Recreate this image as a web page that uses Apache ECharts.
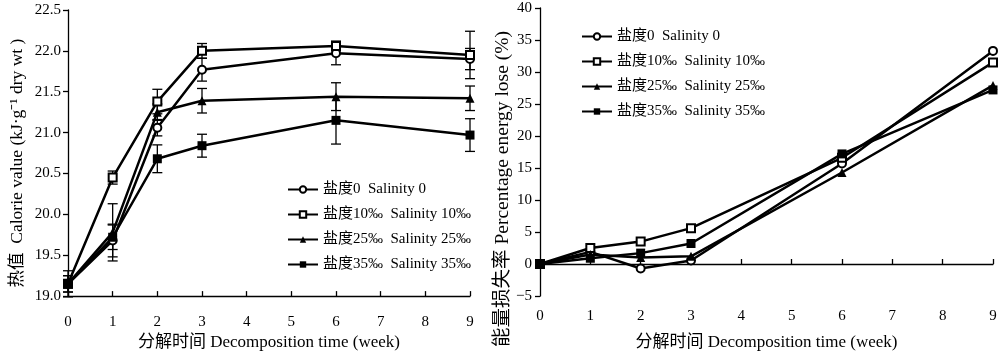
<!DOCTYPE html>
<html>
<head>
<meta charset="utf-8">
<script src="https://cdn.jsdelivr.net/npm/echarts@6/dist/echarts.min.js"></script>
<style>html,body{margin:0;padding:0;background:#fff}#c{width:1000px;height:356px}</style>
</head>
<body>
<div id="c"></div>
<script>
const weeks = [0, 1, 2, 3, 6, 9];
const seriesNames = ['盐度0  Salinity 0', '盐度10‰  Salinity 10‰', '盐度25‰  Salinity 25‰', '盐度35‰  Salinity 35‰'];
const symbols = ['emptyCircle', 'emptyRect', 'triangle', 'rect'];
const symbolSizes = [8, 8, 9, 9];

// Left: caloric value (kJ/g dry wt)
const caloric0 = [19.15, 19.68, 21.06, 21.77, 21.97, 21.90];
const caloric10 = [19.15, 20.45, 21.38, 22.00, 22.06, 21.95];
const caloric25 = [19.15, 19.78, 21.25, 21.39, 21.44, 21.42];
const caloric35 = [19.15, 19.72, 20.68, 20.84, 21.15, 20.97];
const err0 = [0.10, 0.20, 0.10, 0.14, 0.14, 0.13];
const err10 = [0.05, 0.08, 0.15, 0.09, 0.06, 0.29];
const err25 = [0.10, 0.35, 0.10, 0.15, 0.17, 0.15];
const err35 = [0.16, 0.15, 0.17, 0.14, 0.29, 0.20];

// Right: percentage energy lose (%)
const loss0 = [0, 1.9, -0.7, 0.55, 15.7, 33.3];
const loss10 = [0, 2.5, 3.5, 5.6, 16.6, 31.5];
const loss25 = [0, 1.5, 1.0, 1.2, 14.3, 27.9];
const loss35 = [0, 0.9, 1.7, 3.2, 17.2, 27.2];

const leftTicks = [19.0, 19.5, 20.0, 20.5, 21.0, 21.5, 22.0, 22.5];
const rightTicks = [-5, 0, 5, 10, 15, 20, 25, 30, 35, 40];
const xTicks = [0, 1, 2, 3, 4, 5, 6, 7, 8, 9];

const FONT = '"Liberation Serif", "Noto Sans CJK SC", serif';
const caloric = [caloric0, caloric10, caloric25, caloric35];
const errs = [err0, err10, err25, err35];
const losses = [loss0, loss10, loss25, loss35];

function pairs(ys) { return weeks.map((w, i) => [w, ys[i]]); }

const series = [];
caloric.forEach((ys, k) => {
  series.push({
    type: 'custom', xAxisIndex: 0, yAxisIndex: 0, silent: true, z: 1,
    data: weeks.map((w, i) => [w, ys[i] - errs[k][i], ys[i] + errs[k][i]]),
    renderItem: function (params, api) {
      const lo = api.coord([api.value(0), api.value(1)]);
      const hi = api.coord([api.value(0), api.value(2)]);
      const hw = 5;
      const st = { stroke: '#000', lineWidth: 1.3 };
      return { type: 'group', children: [
        { type: 'line', shape: { x1: lo[0], y1: lo[1], x2: hi[0], y2: hi[1] }, style: st },
        { type: 'line', shape: { x1: lo[0] - hw, y1: lo[1], x2: lo[0] + hw, y2: lo[1] }, style: st },
        { type: 'line', shape: { x1: hi[0] - hw, y1: hi[1], x2: hi[0] + hw, y2: hi[1] }, style: st }
      ]};
    }
  });
});
caloric.forEach((ys, k) => {
  series.push({
    name: seriesNames[k], type: 'line', xAxisIndex: 0, yAxisIndex: 0, z: 3,
    data: pairs(ys), symbol: symbols[k], symbolSize: symbolSizes[k],
    lineStyle: { color: '#000', width: 2.5 },
    itemStyle: { color: '#000', borderWidth: 1.2 }
  });
});
losses.forEach((ys, k) => {
  series.push({
    name: seriesNames[k], type: 'line', xAxisIndex: 1, yAxisIndex: 1, z: 3,
    data: pairs(ys), symbol: symbols[k], symbolSize: symbolSizes[k],
    lineStyle: { color: '#000', width: 2.5 },
    itemStyle: { color: '#000', borderWidth: 1.2 }
  });
});

const axisLine = { show: true, onZero: true, lineStyle: { color: '#000', width: 1.3 } };
const xAxisName = '分解时间 Decomposition time (week)';

const option = {
  animation: false,
  backgroundColor: '#fff',
  textStyle: { fontFamily: FONT, color: '#000' },
  grid: [
    { left: 68, right: 530, top: 10, bottom: 58 },
    { left: 540, right: 7, top: 8, bottom: 22 }
  ],
  legend: [
    { data: seriesNames, orient: 'vertical', left: 282, top: 177, itemWidth: 30, itemHeight: 8, itemGap: 10,
      textStyle: { fontFamily: FONT, fontSize: 15, color: '#000' }, selectedMode: false },
    { data: seriesNames, orient: 'vertical', left: 576, top: 24, itemWidth: 30, itemHeight: 8, itemGap: 10,
      textStyle: { fontFamily: FONT, fontSize: 15, color: '#000' }, selectedMode: false }
  ],
  xAxis: [
    { type: 'value', gridIndex: 0, min: xTicks[0], max: xTicks[xTicks.length - 1], interval: 1,
      axisLine: axisLine, axisTick: { inside: true, length: 5, lineStyle: { color: '#000', width: 1.3 } },
      axisLabel: { fontFamily: FONT, fontSize: 15, color: '#000', margin: 18 },
      splitLine: { show: false },
      name: xAxisName, nameLocation: 'middle', nameGap: 37,
      nameTextStyle: { fontFamily: FONT, fontSize: 17, color: '#000' } },
    { type: 'value', gridIndex: 1, min: xTicks[0], max: xTicks[xTicks.length - 1], interval: 1,
      axisLine: axisLine, axisTick: { inside: true, length: 5, lineStyle: { color: '#000', width: 1.3 } },
      axisLabel: { fontFamily: FONT, fontSize: 15, color: '#000', margin: 13 },
      splitLine: { show: false },
      name: xAxisName, nameLocation: 'middle', nameGap: 38,
      nameTextStyle: { fontFamily: FONT, fontSize: 17, color: '#000' } }
  ],
  yAxis: [
    { type: 'value', gridIndex: 0, min: leftTicks[0], max: leftTicks[leftTicks.length - 1], interval: 0.5,
      axisLine: axisLine, axisTick: { show: true, length: 5, lineStyle: { color: '#000', width: 1.3 } },
      axisLabel: { fontFamily: FONT, fontSize: 15, color: '#000', margin: 7, formatter: v => v.toFixed(1) },
      splitLine: { show: false },
      name: '热值  Calorie value (kJ·g⁻¹ dry wt )', nameLocation: 'middle', nameRotate: 90, nameGap: 42,
      nameTextStyle: { fontFamily: FONT, fontSize: 17.5, color: '#000', padding: [0, 20, 0, 0] } },
    { type: 'value', gridIndex: 1, min: rightTicks[0], max: rightTicks[rightTicks.length - 1], interval: 5,
      axisLine: axisLine, axisTick: { show: true, length: 5, lineStyle: { color: '#000', width: 1.3 } },
      axisLabel: { fontFamily: FONT, fontSize: 15, color: '#000', margin: 8,
        formatter: v => (v < 0 ? '−' + Math.abs(v) : String(v)) },
      splitLine: { show: false },
      name: '能量损失率 Percentage energy lose (%)', nameLocation: 'middle', nameRotate: 90, nameGap: 24,
      nameTextStyle: { fontFamily: FONT, fontSize: 19.5, color: '#000', padding: [0, 74, 0, 0] } }
  ],
  series: series
};

const chart = echarts.init(document.getElementById('c'), null, { renderer: 'canvas' });
chart.setOption(option);
</script>
</body>
</html>
